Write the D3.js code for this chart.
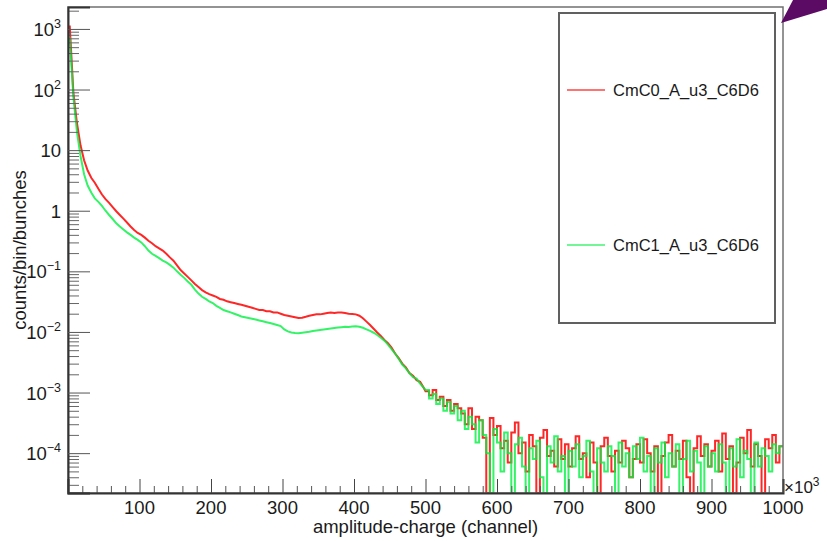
<!DOCTYPE html>
<html lang="en">
<head>
<meta charset="utf-8">
<script src="https://d3js.org/d3.v7.min.js"></script>
<style>
  body { margin: 0; background: #fff; }
  text { font-family: "Liberation Sans", Arial, Helvetica, sans-serif; fill: #1a1a1a; }
</style>
</head>
<body>
<svg id="chart" width="827" height="541"></svg>
<script>
// histogram bins: 5 units (x10^3 channel) wide, starting at 0
var binWidth = 5;
var seriesNames = ["CmC0_A_u3_C6D6", "CmC1_A_u3_C6D6"];
var seriesColors = ["#ff0000", "#00f040"];

var redCounts = [
  1100, 90, 28, 12, 6.8, 4.6, 3.5, 2.9, 2.3, 1.85,
  1.55, 1.35, 1.15, 0.98, 0.85, 0.74, 0.64, 0.55, 0.48, 0.43,
  0.40, 0.36, 0.32, 0.29, 0.26, 0.24, 0.22, 0.195, 0.17, 0.15,
  0.125, 0.105, 0.092, 0.081, 0.071, 0.062, 0.055, 0.049, 0.045, 0.042,
  0.040, 0.038, 0.035, 0.034, 0.032, 0.031, 0.030, 0.029, 0.028, 0.027,
  0.026, 0.025, 0.024, 0.023, 0.023, 0.022, 0.022, 0.021, 0.021, 0.020,
  0.019, 0.0185, 0.018, 0.0175, 0.017, 0.0172, 0.0178, 0.0185, 0.019, 0.0195,
  0.0195, 0.020, 0.0205, 0.021, 0.0205, 0.021, 0.021, 0.0205, 0.020, 0.0198,
  0.0195, 0.0185, 0.0168, 0.0148, 0.013, 0.0113, 0.0098, 0.0086, 0.0074, 0.0065,
  0.0055, 0.0044, 0.0037, 0.0030, 0.0026, 0.0021, 0.0019, 0.0016, 0.0015, 0.0012,
  1.05e-3, 9.0e-4, 1.1e-3, 7.5e-4, 8.5e-4, 6.0e-4, 7.5e-4, 5.0e-4, 6.5e-4, 5.5e-4,
  4.5e-4, 3.0e-4, 5.5e-4, 2.5e-4, 4.0e-4, 3.5e-4, 1.8e-4, 0, 3.8e-4, 2.0e-4,
  2.8e-4, 1.2e-4, 1.6e-4, 0.7e-4, 2.2e-4, 3.2e-4, 1.0e-4, 1.5e-4, 0.5e-4, 2.0e-4,
  1.3e-4, 0, 1.8e-4, 2.4e-4, 0.9e-4, 1.1e-4, 0.6e-4, 1.7e-4, 0.8e-4, 1.4e-4,
  0.6e-4, 1.2e-4, 1.9e-4, 0.8e-4, 1.0e-4, 0.4e-4, 1.5e-4, 0.7e-4, 0, 1.3e-4,
  1.8e-4, 0.9e-4, 0.5e-4, 1.1e-4, 0.7e-4, 1.6e-4, 1.2e-4, 0.4e-4, 0.8e-4, 1.4e-4,
  0.7e-4, 1.7e-4, 1.0e-4, 0.5e-4, 1.3e-4, 0, 0.9e-4, 1.5e-4, 2.0e-4, 0.6e-4,
  1.1e-4, 0.8e-4, 1.6e-4, 0.4e-4, 0, 1.2e-4, 1.9e-4, 0.9e-4, 1.4e-4, 0.6e-4,
  1.1e-4, 1.6e-4, 0.5e-4, 2.1e-4, 0.8e-4, 1.3e-4, 0, 0.7e-4, 1.8e-4, 1.0e-4,
  2.4e-4, 0.6e-4, 1.4e-4, 0.9e-4, 0, 1.7e-4, 1.2e-4, 2.0e-4, 0.7e-4, 1.3e-4
];

var greenCounts = [
  700, 75, 20, 8, 4.0, 2.6, 2.0, 1.6, 1.4, 1.2,
  1.0, 0.85, 0.73, 0.62, 0.55, 0.49, 0.44, 0.40, 0.36, 0.33,
  0.30, 0.26, 0.22, 0.195, 0.18, 0.165, 0.15, 0.14, 0.128, 0.115,
  0.10, 0.088, 0.078, 0.068, 0.060, 0.050, 0.043, 0.038, 0.035, 0.032,
  0.030, 0.027, 0.025, 0.023, 0.022, 0.021, 0.020, 0.019, 0.018, 0.0175,
  0.017, 0.0165, 0.016, 0.0155, 0.015, 0.0145, 0.014, 0.0135, 0.013, 0.0125,
  0.011, 0.0102, 0.0098, 0.0096, 0.0095, 0.0097, 0.0099, 0.0101, 0.0104, 0.0106,
  0.0108, 0.011, 0.0112, 0.0114, 0.0116, 0.0118, 0.012, 0.0122, 0.0121, 0.0123,
  0.0124, 0.0122, 0.0117, 0.0110, 0.0104, 0.0097, 0.0089, 0.0080, 0.0072, 0.0062,
  0.0052, 0.0044, 0.0036, 0.0029, 0.0025, 0.0021, 0.0018, 0.0017, 0.0014, 0.0012,
  1.1e-3, 8.0e-4, 9.5e-4, 6.5e-4, 8.0e-4, 5.0e-4, 7.0e-4, 4.5e-4, 6.0e-4, 3.5e-4,
  5.0e-4, 2.5e-4, 4.0e-4, 3.0e-4, 1.5e-4, 3.5e-4, 2.0e-4, 1.0e-4, 0, 2.5e-4,
  1.5e-4, 0.5e-4, 2.2e-4, 1.0e-4, 0, 1.4e-4, 1.8e-4, 0.6e-4, 0, 1.2e-4,
  0.8e-4, 1.6e-4, 0.4e-4, 0, 1.3e-4, 0.7e-4, 1.9e-4, 0.5e-4, 0.9e-4, 0,
  1.1e-4, 0.6e-4, 1.4e-4, 0.4e-4, 0.9e-4, 1.6e-4, 0.5e-4, 0, 1.2e-4, 0.7e-4,
  0.5e-4, 1.3e-4, 0.9e-4, 0, 1.5e-4, 0.6e-4, 1.0e-4, 0.4e-4, 1.3e-4, 0.8e-4,
  1.8e-4, 0.5e-4, 0.9e-4, 0, 1.2e-4, 0.7e-4, 1.5e-4, 0.4e-4, 1.0e-4, 0.6e-4,
  1.4e-4, 0, 0.8e-4, 1.6e-4, 0.5e-4, 1.1e-4, 0.7e-4, 0, 1.3e-4, 0.6e-4,
  1.0e-4, 0.5e-4, 1.4e-4, 0.7e-4, 0, 1.2e-4, 0.6e-4, 1.7e-4, 0.4e-4, 1.1e-4,
  0.8e-4, 0, 1.5e-4, 0.6e-4, 1.2e-4, 0.9e-4, 0.5e-4, 1.4e-4, 1.0e-4, 1.3e-4
];

var xTickValues = [100, 200, 300, 400, 500, 600, 700, 800, 900, 1000];
var yTickExponents = [-4, -3, -2, -1, 0, 1, 2, 3];

// frame edges ("top" is taken by window.top, so prefix them)
var pLeft = 68, pRight = 783, pTop = 7, pBottom = 493;
var svg = d3.select("#chart");

var x = d3.scaleLinear().domain([0, 1000]).range([pLeft, pRight]);
var y = d3.scaleLog().domain([2.2e-5, 2300]).range([pBottom, pTop]);

svg.append("defs").append("clipPath").attr("id", "plotclip")
   .append("rect")
   .attr("x", pLeft).attr("y", pTop)
   .attr("width", pRight - pLeft).attr("height", pBottom - pTop);

// smooth part joins bin centres, the noisy tail is drawn as steps
var smoothBins = 100;
function histPoints(counts) {
  var pts = [[0, counts[0]]];
  counts.forEach(function (v, i) {
    var yv = v > 0 ? v : y.domain()[0];
    if (i < smoothBins) {
      pts.push([(i + 0.5) * binWidth, yv]);
    } else {
      pts.push([i * binWidth, yv]);
      pts.push([(i + 1) * binWidth, yv]);
    }
  });
  return pts;
}
var line = d3.line()
  .x(function (d) { return x(d[0]); })
  .y(function (d) { return y(d[1]); });

var plot = svg.append("g").attr("clip-path", "url(#plotclip)");
[redCounts, greenCounts].forEach(function (counts, k) {
  plot.append("path")
      .attr("d", line(histPoints(counts)))
      .attr("fill", "none")
      .attr("stroke", seriesColors[k])
      .attr("stroke-opacity", k == 0 ? 0.85 : 0.8)
      .attr("stroke-width", 2);
});

// frame box (top/right)
svg.append("rect")
   .attr("x", pLeft).attr("y", pTop)
   .attr("width", pRight - pLeft).attr("height", pBottom - pTop)
   .attr("fill", "none").attr("stroke", "#707070").attr("stroke-width", 1.5);

// x axis: major + minor ticks pointing inward
var xMinor = d3.range(20, 1000, 20).filter(function (v) { return v % 100 != 0; });
svg.append("g").attr("transform", "translate(0," + pBottom + ")")
   .call(d3.axisBottom(x).tickValues(xMinor).tickSize(-7).tickFormat(""))
   .call(function (g) { g.select(".domain").remove(); g.selectAll("line").attr("stroke", "#555"); });
svg.append("g").attr("transform", "translate(0," + pBottom + ")")
   .call(d3.axisBottom(x).tickValues(xTickValues).tickSize(-14).tickFormat(""))
   .call(function (g) { g.select(".domain").attr("stroke", "#333").attr("stroke-width", 2); g.selectAll("line").attr("stroke", "#444"); });

svg.append("g").selectAll("text")
   .data(xTickValues).enter().append("text")
   .attr("x", function (d) { return x(d); })
   .attr("y", 514)
   .attr("text-anchor", "middle")
   .style("font-size", "18.5px")
   .text(function (d) { return d; });

var xMult = svg.append("text").attr("x", 784).attr("y", 493).style("font-size", "17px");
xMult.append("tspan").text("\u00d710");
xMult.append("tspan").attr("dy", -7).style("font-size", "12px").text("3");

svg.append("text")
   .attr("x", (pLeft + pRight) / 2).attr("y", 533)
   .attr("text-anchor", "middle")
   .style("font-size", "18.5px")
   .text("amplitude-charge (channel)");

// y axis: log ticks
var yMajor = yTickExponents.map(function (e) { return Math.pow(10, e); });
var yMinor = y.ticks().filter(function (v) {
  var l = Math.log10(v);
  return Math.abs(l - Math.round(l)) > 1e-6;
});
svg.append("g").attr("transform", "translate(" + pLeft + ",0)")
   .call(d3.axisLeft(y).tickValues(yMinor).tickSize(-11).tickFormat(""))
   .call(function (g) { g.select(".domain").remove(); g.selectAll("line").attr("stroke", "#666"); });
svg.append("g").attr("transform", "translate(" + pLeft + ",0)")
   .call(d3.axisLeft(y).tickValues(yMajor).tickSize(-22).tickFormat(""))
   .call(function (g) { g.select(".domain").attr("stroke", "#333").attr("stroke-width", 2); g.selectAll("line").attr("stroke", "#555"); });

var yLab = svg.append("g").selectAll("text")
   .data(yTickExponents).enter().append("text")
   .attr("x", 61)
   .attr("y", function (e) { return y(Math.pow(10, e)) + 7; })
   .attr("text-anchor", "end")
   .style("font-size", "18.5px");
yLab.each(function (e) {
  var t = d3.select(this);
  if (e == 0) { t.text("1"); return; }
  if (e == 1) { t.text("10"); return; }
  t.append("tspan").text("10");
  t.append("tspan").attr("dy", -8).style("font-size", "12.5px")
   .text(e < 0 ? "\u2212" + (-e) : String(e));
});

svg.append("text")
   .attr("transform", "translate(26," + (pTop + pBottom) / 2 + ") rotate(-90)")
   .attr("text-anchor", "middle")
   .style("font-size", "18.5px")
   .text("counts/bin/bunches");

// legend
var lg = svg.append("g");
lg.append("rect")
  .attr("x", 559).attr("y", 13).attr("width", 216).attr("height", 310)
  .attr("fill", "#fff").attr("stroke", "#606060").attr("stroke-width", 2);
var legendY = [90, 245];
seriesNames.forEach(function (name, k) {
  lg.append("line")
    .attr("x1", 567).attr("x2", 605)
    .attr("y1", legendY[k]).attr("y2", legendY[k])
    .attr("stroke", seriesColors[k]).attr("stroke-opacity", 0.55).attr("stroke-width", 2);
  lg.append("text")
    .attr("x", 613).attr("y", legendY[k] + 6)
    .style("font-size", "16.5px")
    .text(name);
});

// purple corner marker (top right)
svg.append("path")
   .attr("d", d3.line()([[781, 23], [793, 0], [827, 0], [827, 9]]) + "Z")
   .attr("fill", "#5c0b64");
</script>
</body>
</html>
